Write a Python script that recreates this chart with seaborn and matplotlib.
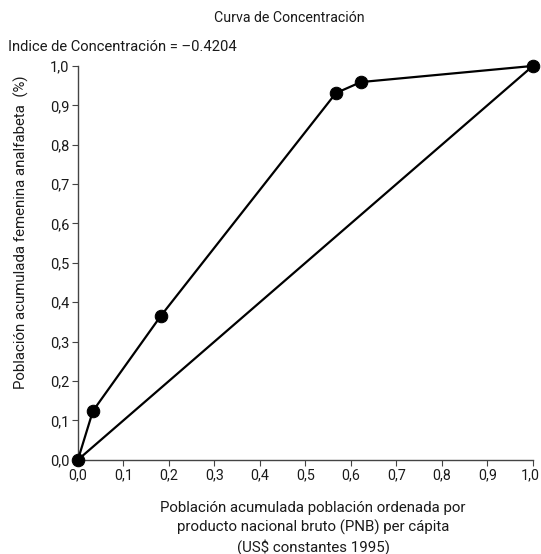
import matplotlib
matplotlib.use("Agg")
import matplotlib.pyplot as plt
import matplotlib.transforms as mtransforms
import seaborn as sns
import pandas as pd
import numpy as np

x_vals = [0.0, 0.033, 0.182, 0.567, 0.622, 1.0]
y_vals = [0.0, 0.124, 0.365, 0.931, 0.959, 1.0]
diag_x = [0.0, 1.0]
diag_y = [0.0, 1.0]
ticks = [0.0, 0.1, 0.2, 0.3, 0.4, 0.5, 0.6, 0.7, 0.8, 0.9, 1.0]
tick_labels = ["0,0", "0,1", "0,2", "0,3", "0,4", "0,5", "0,6", "0,7", "0,8", "0,9", "1,0"]

sns.set_style("ticks")
plt.rcParams['font.family'] = ['Roboto', 'DejaVu Sans']
plt.rcParams['text.color'] = '#1a1a1a'
plt.rcParams['axes.labelcolor'] = '#1a1a1a'
plt.rcParams['xtick.color'] = '#1a1a1a'
plt.rcParams['ytick.color'] = '#1a1a1a'

fig = plt.figure(figsize=(5.41, 5.54), dpi=100)
ax = fig.add_axes([0.144, 0.170, 0.841, 0.711])

df = pd.DataFrame({"x": x_vals, "y": y_vals})
sns.lineplot(data=df, x="x", y="y", ax=ax, color="black", lw=1.6, sort=False,
             marker="o", markersize=9, markeredgecolor="black", markerfacecolor="black",
             clip_on=False, zorder=3)
sns.lineplot(x=diag_x, y=diag_y, ax=ax, color="black", lw=1.6, clip_on=False)

ax.set_xlim(0, 1)
ax.set_ylim(0, 1)
ax.set_xticks(ticks)
ax.set_xticklabels(tick_labels, fontsize=10.3)
ax.set_yticks(ticks)
ax.set_yticklabels(tick_labels, fontsize=10.5)
ax.tick_params(direction='out', length=4, width=0.8, color='#444444', pad=2)
sns.despine(ax=ax)
for s in ['left', 'bottom']:
    ax.spines[s].set_color('#444444')
    ax.spines[s].set_linewidth(1.0)

last = ax.get_xticklabels()[-1]
last.set_transform(last.get_transform() +
                   mtransforms.ScaledTranslation(-3 / 100, 0, fig.dpi_scale_trans))

ax.set_xlabel("")
ax.set_ylabel("")
fig.text(21 / 541, 1 - 232 / 554, "Población acumulada femenina analfabeta  (%)",
         rotation=90, ha='center', va='center', fontsize=10.8)

xlab = ["Población acumulada población ordenada por",
        "producto nacional bruto (PNB) per cápita",
        "(US$ constantes 1995)"]
for i, line in enumerate(xlab):
    fig.text(313 / 541, 1 - (508 + 19.5 * i) / 554, line, ha='center', va='center',
             fontsize=10.8)

fig.text(0.535, 1 - 18 / 554, "Curva de Concentración", ha='center', va='center',
         fontsize=10.2)
fig.text(0.015, 1 - 47 / 554, "Indice de Concentración = \u20130.4204", ha='left', va='center',
         fontsize=10.6)

fig.savefig("out.png", dpi=100)
